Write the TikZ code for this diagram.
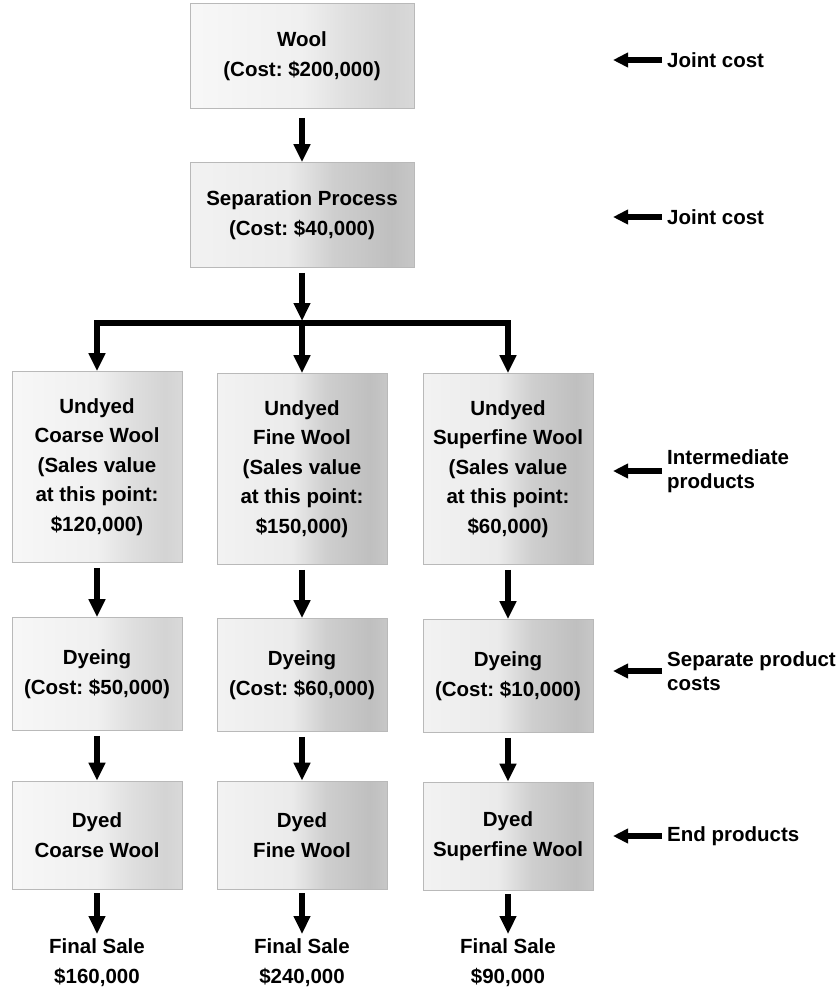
\documentclass[tikz,border=0pt]{standalone}
\usepackage{fontspec}
\setmainfont{Liberation Sans}
\usetikzlibrary{arrows.meta}
\frenchspacing
\pgfdeclarehorizontalshading{boxshadelight}{100bp}{color(0bp)=(gray!6); color(25bp)=(gray!6); color(50bp)=(gray!12); color(60bp)=(gray!25); color(70bp)=(gray!34); color(75bp)=(gray!30); color(100bp)=(gray!30)}
\pgfdeclarehorizontalshading{boxshadedark}{100bp}{color(0bp)=(gray!10); color(25bp)=(gray!10); color(47bp)=(gray!16); color(57bp)=(gray!38); color(70bp)=(gray!50); color(75bp)=(gray!44); color(100bp)=(gray!44)}
\tikzset{
  box/.style={draw=gray!55, line width=0.8pt, shading=boxshadedark, align=center,
    font=\bfseries\fontsize{20.5}{29.5}\selectfont, inner sep=2pt},
  lightbox/.style={box, shading=boxshadelight},
  topbox/.style={minimum width=224pt, minimum height=105pt},
  ubox/.style={minimum width=170pt, minimum height=191pt},
  dbox/.style={minimum width=170pt, minimum height=113pt},
  ebox/.style={minimum width=170pt, minimum height=108pt},
  sale/.style={align=center, font=\bfseries\fontsize{20.5}{30}\selectfont, inner sep=0pt},
  lbl/.style={align=left, font=\bfseries\fontsize{20.5}{24}\selectfont, inner sep=0pt, anchor=west},
  arr/.style={line width=6pt, -{Triangle[width=16pt,length=18pt]}},
  rarr/.style={line width=5.5pt, -{Triangle[width=14pt,length=15pt]}},
  barline/.style={line width=6pt, line cap=rect}
}
\begin{document}
\begin{tikzpicture}[x=1pt,y=-1pt]
\useasboundingbox (0,0) rectangle (837,989);

% top boxes
\node[lightbox, topbox] (wool) at (302,56) {Wool\\(Cost: \$200,000)};
\node[box, topbox] (sep) at (302,215) {Separation Process\\(Cost: \$40,000)};

% intermediate products
\node[lightbox, ubox] (u1) at (97,467) {Undyed\\Coarse Wool\\(Sales value\\at this point:\\\$120,000)};
\node[box, ubox] (u2) at (302,469) {Undyed\\Fine Wool\\(Sales value\\at this point:\\\$150,000)};
\node[box, ubox] (u3) at (508,469) {Undyed\\Superfine Wool\\(Sales value\\at this point:\\\$60,000)};

% dyeing
\node[lightbox, dbox] (d1) at (97,674) {Dyeing\\(Cost: \$50,000)};
\node[box, dbox] (d2) at (302,675) {Dyeing\\(Cost: \$60,000)};
\node[box, dbox] (d3) at (508,676) {Dyeing\\(Cost: \$10,000)};

% dyed
\node[lightbox, ebox] (e1) at (97,835) {Dyed\\Coarse Wool};
\node[box, ebox] (e2) at (302,835) {Dyed\\Fine Wool};
\node[box, ebox] (e3) at (508,836) {Dyed\\Superfine Wool};

% final sale
\node[sale, anchor=north] (s1) at (97,938) {Final Sale\\\$160,000};
\node[sale, anchor=north] (s2) at (302,938) {Final Sale\\\$240,000};
\node[sale, anchor=north] (s3) at (508,938) {Final Sale\\\$90,000};

% vertical arrows
\draw[arr, shorten <=9pt] (wool.south) -- (sep.north);
\coordinate (bar) at (302,323);
\coordinate (barL) at (u1.north |- bar);
\coordinate (barR) at (u3.north |- bar);
\draw[arr, shorten <=5pt, shorten >=2pt] (sep.south) -- (bar);
\draw[barline] (barL) -- (barR);
\draw[arr] (barL) -- (u1.north);
\draw[arr] (bar) -- (u2.north);
\draw[arr] (barR) -- (u3.north);

\foreach \i in {1,2,3}{
  \draw[arr, shorten <=5pt] (u\i.south) -- (d\i.north);
  \draw[arr, shorten <=5pt] (d\i.south) -- (e\i.north);
  \draw[arr, shorten <=4pt, shorten >=4pt] (e\i.south) -- (s\i.north);
}

% right labels
\node[lbl] (j1) at (667,60) {Joint cost};
\node[lbl] (j2) at (667,217) {Joint cost};
\node[lbl] (ip) at (667,471) {Intermediate\\products};
\node[lbl] (sp) at (667,671) {Separate product\\costs};
\node[lbl] (ep) at (667,836) {End products};

\coordinate (t1) at (613,60);
\coordinate (t2) at (613,217);
\coordinate (t3) at (613,471);
\coordinate (t4) at (613,671);
\coordinate (t5) at (613,836);
\draw[rarr, shorten <=5pt] (j1.west) -- (t1);
\draw[rarr, shorten <=5pt] (j2.west) -- (t2);
\draw[rarr, shorten <=5pt] (ip.west) -- (t3);
\draw[rarr, shorten <=5pt] (sp.west) -- (t4);
\draw[rarr, shorten <=5pt] (ep.west) -- (t5);
\end{tikzpicture}
\end{document}
